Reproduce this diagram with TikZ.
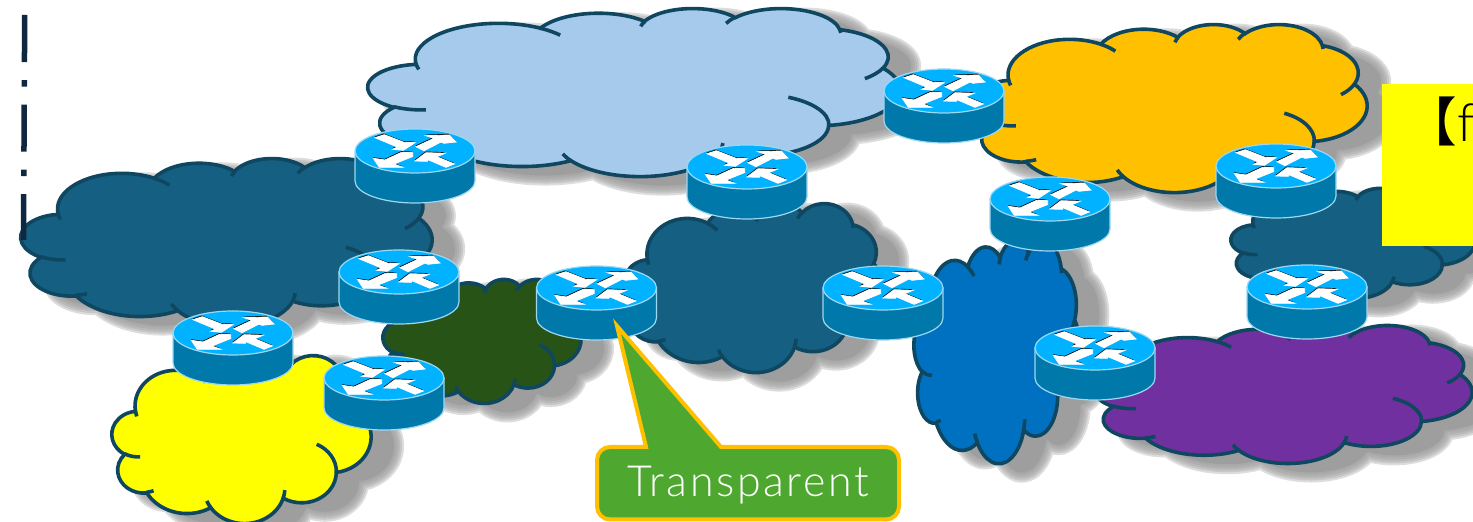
\documentclass[tikz,border=0pt]{standalone}
\usepackage{fontspec}
\newfontfamily\labelfont[LetterSpace=6]{Lato Light}
\newfontfamily\cjkfont{Noto Sans CJK JP}

\definecolor{outlineblue}{HTML}{0F4761}
\definecolor{darkcloud}{HTML}{156082}
\definecolor{lightcloud}{HTML}{A6CAEC}
\definecolor{orangecloud}{HTML}{FFC000}
\definecolor{yellowcloud}{HTML}{FFFF00}
\definecolor{greencloud}{HTML}{275317}
\definecolor{bluecloud}{HTML}{0070C0}
\definecolor{purplecloud}{HTML}{7030A0}
\definecolor{shadowgray}{HTML}{9E9E9E}
\definecolor{routertop}{HTML}{00B2FF}
\definecolor{routerside}{HTML}{0078AA}
\definecolor{routeredge}{HTML}{9CD8F2}
\definecolor{dashnavy}{HTML}{0E2841}
\definecolor{calloutgreen}{HTML}{4EA72E}

% one cloud outline, drawn in a 43.2 x 43.2 box
\newcommand{\cloudoutline}{(3.9,14.37)
	arc (-187.747:-59.63:6.753 and 9.19)
	arc (-152.02:-45.44:5.333 and 7.267)
	arc (-153.48:-37.34:4.365 and 5.945)
	arc (-139.72:-10.21:4.857 and 6.595)
	arc (-74.77:23.21:5.333 and 7.273)
	arc (-37.53:81.87:6.775 and 9.22)
	arc (0.46:121.97:5.785 and 7.867)
	arc (16.85:146.24:6.752 and 9.215)
	arc (58.99:150.18:7.72 and 10.543)
	arc (-276.69:-136.9:4.36 and 5.918)
	arc (-239.68:-95.89:4.345 and 5.945) -- cycle}
\newcommand{\cloudticks}{
	(4.127,15.789) arc (-196.8:-187.747:6.753 and 9.19)
	(14.005,5.202) arc (-59.63:-42:6.753 and 9.19)
	(22.141,4.72) arc (-166.7:-153.48:4.365 and 5.945)
	(29.078,3.952) arc (-155.24:-139.72:4.857 and 6.595)
	(38.318,5.576) arc (-10.21:-3:4.857 and 6.595)
	(41.818,15.46) arc (23.21:50:5.333 and 7.273)
	(34.129,22.954) arc (-64.6:0.46:5.785 and 7.867)
	(28.827,34.751) arc (3.8:16.85:6.752 and 9.215)
	(16.479,39.265) arc (146.24:158.47:6.752 and 9.215)
	(6.928,34.899) arc (-292.7:-276.69:4.36 and 5.918)
	(4.693,26.177) arc (-275.27:-239.68:4.345 and 5.945)}
% left, top, width, height, colour
\newcommand{\netcloud}[5]{
	\begin{scope}[shift={(#1+23,#2+9)},xscale=#3/43.2,yscale=#4/43.2]
		\foreach \blurw in {0.2,0.16,0.12,0.08,0.04}{
			\draw[shadowgray,opacity=0.35,line width=\blurw cm,line join=round] \cloudoutline;
		}
		\fill[shadowgray] \cloudoutline;
	\end{scope}
	\begin{scope}[shift={(#1,#2)},xscale=#3/43.2,yscale=#4/43.2]
		\fill[#5] \cloudoutline;
		\draw[cloudline] \cloudoutline;
		\draw[cloudline] \cloudticks;
	\end{scope}
}

\tikzset{
	cloudline/.style={outlineblue,line width=0.036cm},
	routerbody/.style={draw=routeredge,line width=0.012cm},
	routerarrow/.pic={
		\fill[black,shift={(-0.5,-1.1)}] #1 -- cycle;
		\filldraw[white,line width=0.008cm] #1 -- cycle;
	},
	router/.pic={
		\path[routerbody,fill=routerside] (-60,0) -- (-60,30) arc (180:0:60 and 22) -- (60,0) -- cycle;
		\path[routerbody,fill=routertop] (0,0) ellipse (60 and 22);
		\pic {routerarrow={(-40,-13.3) -- (-30.7,-16.3) -- (-11,-8.7) -- (0,-8.3) -- (-11.7,-0.7) -- (-22.3,-1.7) -- (-17.7,-4)}};
		\pic {routerarrow={(1,-4.3) -- (19,-12.7) -- (11,-15.3) -- (34.3,-16) -- (41,-9) -- (29,-7.7) -- (26,-9) -- (9,-0.3)}};
		\pic {routerarrow={(-2.3,1.7) -- (-13.3,1.3) -- (-30,9) -- (-41.7,7.3) -- (-35.7,16.3) -- (-12.3,16.3) -- (-21,13) -- (-2.3,5.5)}};
		\pic {routerarrow={(0,10) -- (11,1.7) -- (30,2.3) -- (21.7,5.7) -- (39.3,13) -- (31,16.3) -- (13,8.7) -- (12.3,10.3)}};
	},
	calloutbox/.style={fill=calloutgreen,draw=orangecloud,line width=0.04cm,line join=miter},
}

\begin{document}
\begin{tikzpicture}[x=0.01cm,y=-0.01cm]
	\useasboundingbox (0,0) rectangle (1473,522);

	% Clouds:
	\netcloud{368}{8}{532}{168}{lightcloud}
	\netcloud{21}{158}{411}{168}{darkcloud}
	\netcloud{112}{355}{259}{168}{yellowcloud}
	\netcloud{383}{279}{198}{124}{greencloud}
	\netcloud{624}{203}{258}{169}{darkcloud}
	\netcloud{973}{24}{394}{168}{orangecloud}
	\netcloud{1231}{188}{244}{110}{darkcloud}
	\netcloud{914}{240}{166}{223}{bluecloud}
	\netcloud{1095}{325}{377}{138}{purplecloud}

	% Dash-dot line:
	\coordinate (lineTop) at (24.7,15);
	\coordinate (lineBot) at (23.5,240);
	\draw[dashnavy,line width=0.055cm,dash pattern=on 0.47cm off 0.18cm on 0.065cm off 0.18cm] (lineTop) -- (lineBot);

	% Routers:
	\pic (routerA) at (415,151) {router};
	\pic (routerB) at (399,272) {router};
	\pic (routerC) at (233,333) {router};
	\pic (routerD) at (384,378) {router};
	\pic (routerE) at (596.5,288) {router};
	\pic (routerF) at (883,288) {router};
	\pic (routerG) at (747,167) {router};
	\pic (routerH) at (944,91) {router};
	\pic (routerI) at (1050,199) {router};
	\pic (routerJ) at (1276,166) {router};
	\pic (routerK) at (1307,287) {router};
	\pic (routerL) at (1095,348) {router};

	% Callout and note:
	\draw[calloutbox] (617,326) -- (721,447) [rounded corners=0.13cm] -- (899,447) -- (899,519.5) -- (597,519.5) -- (597,447) [sharp corners] -- (646,447) -- cycle;
	\node[anchor=base,white,inner sep=0pt,font=\labelfont\fontsize{12.2pt}{14pt}\selectfont] (calloutText) at (748,497) {Transparent};
	\fill[yellowcloud] (1382,84) rectangle (1473,246);
	\node[anchor=base west,inner sep=0pt,font=\fontsize{15pt}{17pt}\selectfont] (noteText) at (1404,142) {\cjkfont 【\labelfont f};
\end{tikzpicture}
\end{document}
